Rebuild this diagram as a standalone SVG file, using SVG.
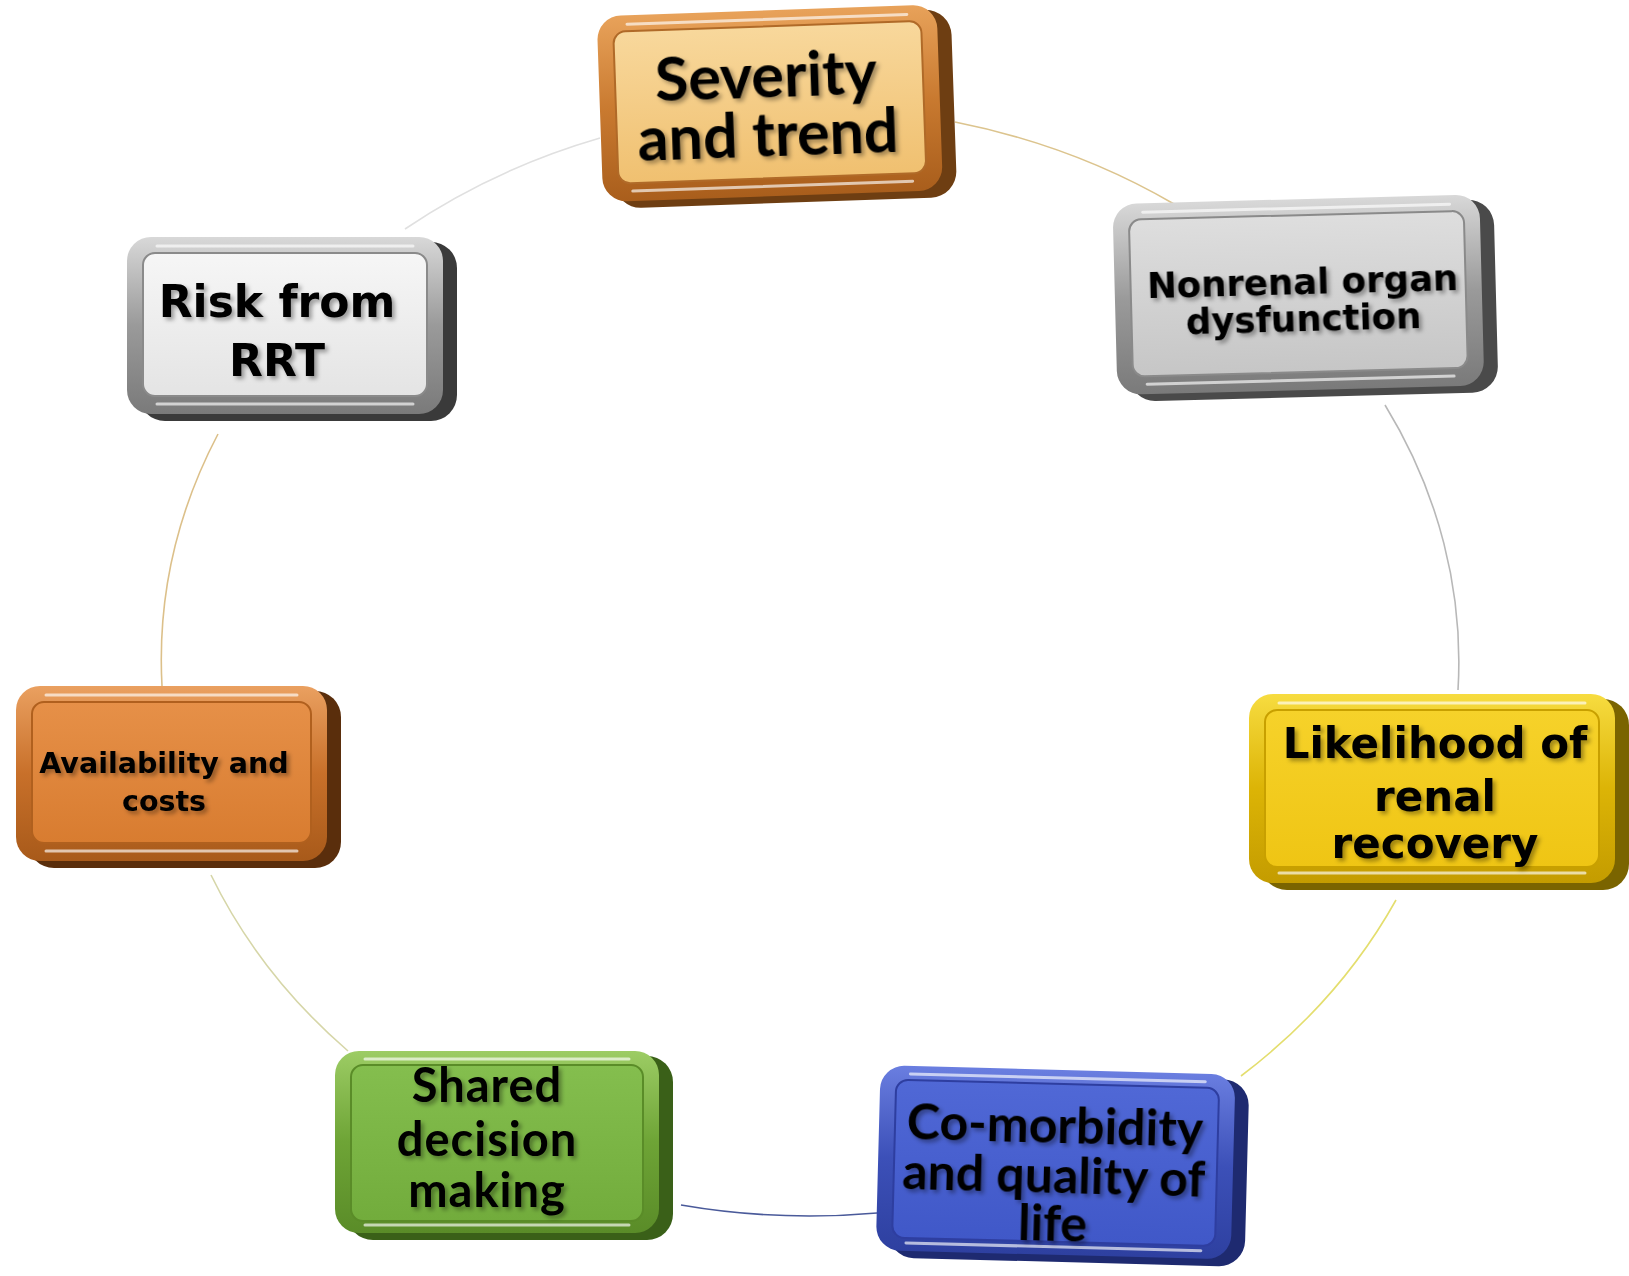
<svg xmlns="http://www.w3.org/2000/svg" width="1629" height="1276" viewBox="0 0 1629 1276">
<style>
.conn{fill:none;stroke-width:1.6}
.ext{stroke:none}
.hl{stroke:#ffffff;stroke-opacity:.65;stroke-width:3;fill:none;stroke-linecap:round}
.t1{font-family:Lato,"Open Sans","Liberation Sans",sans-serif;font-weight:700;fill:#000;text-anchor:middle;filter:url(#ts)}
.t2{font-family:"DejaVu Sans","Liberation Sans",sans-serif;font-weight:700;fill:#000;text-anchor:middle;filter:url(#ts)}
</style>
<defs>
<filter id="ts" x="-10%" y="-30%" width="130%" height="180%">
<feDropShadow dx="3" dy="3" stdDeviation="2.2" flood-color="#000" flood-opacity="0.35"/>
</filter>
<linearGradient id="ext" x1="0" y1="0" x2="1" y2="0"><stop offset="0.85" stop-color="#000" stop-opacity="0"/><stop offset="1" stop-color="#000" stop-opacity="0.45"/></linearGradient>
<linearGradient id="fOr" x1="0" y1="0" x2="0" y2="1"><stop offset="0" stop-color="#e8a25a"/><stop offset="0.5" stop-color="#c97a30"/><stop offset="1" stop-color="#a95e1c"/></linearGradient>
<linearGradient id="cOr" x1="0" y1="0" x2="0" y2="1"><stop offset="0" stop-color="#f8d89c"/><stop offset="1" stop-color="#f0c070"/></linearGradient>
<linearGradient id="fGr" x1="0" y1="0" x2="0" y2="1"><stop offset="0" stop-color="#d8d8d8"/><stop offset="0.5" stop-color="#9a9a9a"/><stop offset="1" stop-color="#7a7a7a"/></linearGradient>
<linearGradient id="cGr" x1="0" y1="0" x2="0" y2="1"><stop offset="0" stop-color="#dedede"/><stop offset="1" stop-color="#c6c6c6"/></linearGradient>
<linearGradient id="cWh" x1="0" y1="0" x2="0" y2="1"><stop offset="0" stop-color="#f6f6f6"/><stop offset="1" stop-color="#e4e4e4"/></linearGradient>
<linearGradient id="fYe" x1="0" y1="0" x2="0" y2="1"><stop offset="0" stop-color="#f7dc40"/><stop offset="0.5" stop-color="#dcb406"/><stop offset="1" stop-color="#c49c00"/></linearGradient>
<linearGradient id="cYe" x1="0" y1="0" x2="0" y2="1"><stop offset="0" stop-color="#f6d22a"/><stop offset="1" stop-color="#efc514"/></linearGradient>
<linearGradient id="fBl" x1="0" y1="0" x2="0" y2="1"><stop offset="0" stop-color="#6a7ee0"/><stop offset="0.5" stop-color="#3c50b8"/><stop offset="1" stop-color="#2e40a0"/></linearGradient>
<linearGradient id="cBl" x1="0" y1="0" x2="0" y2="1"><stop offset="0" stop-color="#5068d6"/><stop offset="1" stop-color="#4058c8"/></linearGradient>
<linearGradient id="fGn" x1="0" y1="0" x2="0" y2="1"><stop offset="0" stop-color="#9ccc64"/><stop offset="0.5" stop-color="#6ea436"/><stop offset="1" stop-color="#5a8c28"/></linearGradient>
<linearGradient id="cGn" x1="0" y1="0" x2="0" y2="1"><stop offset="0" stop-color="#84be4e"/><stop offset="1" stop-color="#72ac3c"/></linearGradient>
<linearGradient id="fAv" x1="0" y1="0" x2="0" y2="1"><stop offset="0" stop-color="#eaa060"/><stop offset="0.5" stop-color="#c8702a"/><stop offset="1" stop-color="#a85a1a"/></linearGradient>
<linearGradient id="cAv" x1="0" y1="0" x2="0" y2="1"><stop offset="0" stop-color="#e69048"/><stop offset="1" stop-color="#d87c30"/></linearGradient>
</defs>
<rect width="1629" height="1276" fill="#ffffff"/>
<g id="connectors">
<path class="conn" stroke="#dcc48e" d="M 955 122 A 649 554 0 0 1 1174 204"/>
<path class="conn" stroke="#b8b8b8" d="M 1385 405 A 649 554 0 0 1 1458 690"/>
<path class="conn" stroke="#e4de6e" d="M 1396 900 A 649 554 0 0 1 1241 1076"/>
<path class="conn" stroke="#4a5a9a" d="M 877 1213 A 649 554 0 0 1 681 1205"/>
<path class="conn" stroke="#d6d6a8" d="M 348 1051 A 649 554 0 0 1 211 875"/>
<path class="conn" stroke="#dcc08a" d="M 162 686 A 649 554 0 0 1 218 434"/>
<path class="conn" stroke="#e0e0e0" d="M 405 229 A 649 554 0 0 1 600 138"/>
</g>
<g id="n-severity" transform="translate(600,10) rotate(-2 177 98)">
<rect class="ext" x="12" y="5" width="342" height="188" rx="26" fill="#6e3e12"/>
<rect x="0" y="0" width="340" height="186" rx="24" fill="url(#fOr)"/>
<rect x="16" y="16" width="308" height="152" rx="12" fill="url(#cOr)" stroke="#b06a28" stroke-width="2"/>
<path class="hl" d="M 30 9 H 310"/><path class="hl" d="M 30 176 H 310"/>
<text class="t1" font-size="61" x="167" y="87">Severity</text>
<text class="t1" font-size="61" x="167" y="146">and trend</text>
</g>
<g id="n-nonrenal" transform="translate(1115,199) rotate(-1.5 190 100)">
<rect class="ext" x="12" y="5" width="369" height="193" rx="26" fill="#4a4a4a"/>
<rect x="0" y="0" width="367" height="191" rx="24" fill="url(#fGr)"/>
<rect x="16" y="16" width="335" height="157" rx="12" fill="url(#cGr)" stroke="#8a8a8a" stroke-width="2"/>
<path class="hl" d="M 30 9 H 337"/><path class="hl" d="M 30 181 H 337"/>
<text class="t2" font-size="35.5" x="188" y="95">Nonrenal organ</text>
<text class="t2" font-size="35.5" x="188" y="132">dysfunction</text>
</g>
<g id="n-likelihood" transform="translate(1249,694)">
<rect class="ext" x="12" y="5" width="368" height="191" rx="26" fill="#7a6400"/>
<rect x="0" y="0" width="366" height="189" rx="24" fill="url(#fYe)"/>
<rect x="16" y="16" width="334" height="157" rx="12" fill="url(#cYe)" stroke="#c8a000" stroke-width="2"/>
<path class="hl" d="M 30 9 H 336"/><path class="hl" d="M 30 179 H 336"/>
<text class="t2" font-size="42" x="186" y="64">Likelihood of</text>
<text class="t2" font-size="42" x="186" y="117">renal</text>
<text class="t2" font-size="42" x="186" y="164">recovery</text>
</g>
<g id="n-comorbidity" transform="translate(878,1070) rotate(1.5 184 97)">
<rect class="ext" x="12" y="5" width="357" height="187" rx="26" fill="#1e2a70"/>
<rect x="0" y="0" width="355" height="185" rx="24" fill="url(#fBl)"/>
<rect x="16" y="14" width="323" height="158" rx="12" fill="url(#cBl)" stroke="#2e3ea0" stroke-width="2"/>
<path class="hl" d="M 30 8 H 325"/><path class="hl" d="M 30 177 H 325"/>
<text class="t1" font-size="50" x="176" y="73">Co-morbidity</text>
<text class="t1" font-size="50" x="176" y="123">and quality of</text>
<text class="t1" font-size="50" x="176" y="171">life</text>
</g>
<g id="n-shared" transform="translate(335,1051)">
<rect class="ext" x="12" y="5" width="326" height="184" rx="26" fill="#3a6018"/>
<rect x="0" y="0" width="324" height="182" rx="24" fill="url(#fGn)"/>
<rect x="16" y="14" width="292" height="156" rx="12" fill="url(#cGn)" stroke="#5a8c28" stroke-width="2"/>
<path class="hl" d="M 30 8 H 294"/><path class="hl" d="M 30 174 H 294"/>
<text class="t1" font-size="47" letter-spacing="1" x="152" y="51">Shared</text>
<text class="t1" font-size="47" letter-spacing="1" x="152" y="105">decision</text>
<text class="t1" font-size="47" letter-spacing="1" x="152" y="156">making</text>
</g>
<g id="n-availability" transform="translate(16,686)">
<rect class="ext" x="12" y="5" width="313" height="177" rx="26" fill="#5a2e0c"/>
<rect x="0" y="0" width="311" height="175" rx="24" fill="url(#fAv)"/>
<rect x="16" y="16" width="279" height="141" rx="12" fill="url(#cAv)" stroke="#b0601e" stroke-width="2"/>
<path class="hl" d="M 30 9 H 281"/><path class="hl" d="M 30 165 H 281"/>
<text class="t2" font-size="28.5" x="148" y="87">Availability and</text>
<text class="t2" font-size="28.5" x="148" y="125">costs</text>
</g>
<g id="n-risk" transform="translate(127,237)">
<rect class="ext" x="12" y="5" width="318" height="179" rx="26" fill="#3a3a3a"/>
<rect x="0" y="0" width="316" height="177" rx="24" fill="url(#fGr)"/>
<rect x="16" y="16" width="284" height="143" rx="12" fill="url(#cWh)" stroke="#8a8a8a" stroke-width="2"/>
<path class="hl" d="M 30 9 H 286"/><path class="hl" d="M 30 167 H 286"/>
<text class="t2" font-size="44" x="150" y="80">Risk from</text>
<text class="t2" font-size="44" x="150" y="139">RRT</text>
</g>
</svg>
